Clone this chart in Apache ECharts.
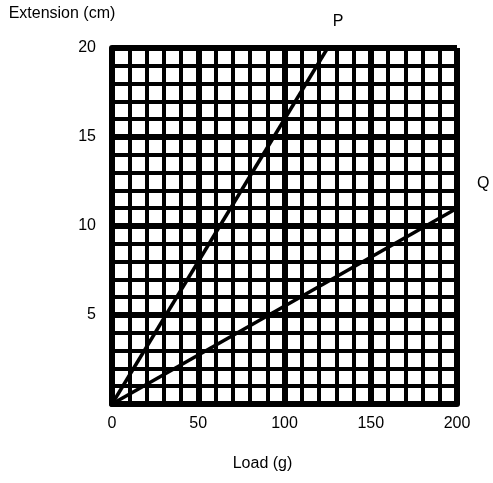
<!DOCTYPE html>
<html>
<head>
<meta charset="utf-8">
<script src="https://cdn.jsdelivr.net/npm/echarts@6/dist/echarts.min.js"></script>
<style>
html,body{margin:0;padding:0;background:#fff;}
#c{width:493px;height:483px;}
</style>
</head>
<body>
<div id="c"></div>
<script>
const xTicks = [0, 50, 100, 150, 200];
const yTicks = [5, 10, 15, 20];
const seriesNames = ['P', 'Q'];
const pData = [[0, 0], [125, 20]];
const qData = [[0, 0], [200, 11]];
const xTitle = 'Load (g)';
const yTitle = 'Extension (cm)';

const font = 'Liberation Sans, Arial, sans-serif';
const chart = echarts.init(document.getElementById('c'), null, {renderer: 'canvas'});

function mkSeries(name, data, labelOffset) {
  return {
    name: name,
    type: 'line',
    data: data,
    symbol: 'none',
    lineStyle: {color: '#000', width: 3.5},
    itemStyle: {color: '#000'},
    endLabel: {show: true, formatter: name, offset: labelOffset, distance: 5,
      color: '#000', fontSize: 16, fontFamily: font},
    clip: false,
    silent: true,
    animation: false
  };
}

chart.setOption({
  backgroundColor: '#fff',
  animation: false,
  grid: {left: 112, right: 36, top: 48, bottom: 79, containLabel: false},
  xAxis: {
    type: 'value', min: 0, max: 200, interval: 50,
    name: xTitle, nameLocation: 'middle', nameGap: 52,
    nameTextStyle: {color: '#000', fontSize: 16, fontFamily: font, padding: [0, 44, 0, 0]},
    axisLine: {show: true, lineStyle: {color: '#000', width: 6}},
    axisTick: {show: false},
    axisLabel: {color: '#000', fontSize: 16, fontFamily: font, margin: 12,
      formatter: v => xTicks.includes(v) ? String(v) : ''},
    splitLine: {show: true, lineStyle: {color: '#000', width: 6}},
    minorTick: {show: false, splitNumber: 5},
    minorSplitLine: {show: true, lineStyle: {color: '#000', width: 4}}
  },
  yAxis: {
    type: 'value', min: 0, max: 20, interval: 5,
    name: yTitle, nameLocation: 'end', nameGap: 26,
    nameTextStyle: {color: '#000', fontSize: 16, fontFamily: font, align: 'center', padding: [0, 100, 0, 0]},
    axisLine: {show: true, lineStyle: {color: '#000', width: 6}},
    axisTick: {show: false},
    axisLabel: {color: '#000', fontSize: 16, fontFamily: font, margin: 16,
      formatter: v => yTicks.includes(v) ? String(v) : ''},
    splitLine: {show: true, lineStyle: {color: '#000', width: 6}},
    minorTick: {show: false, splitNumber: 5},
    minorSplitLine: {show: true, lineStyle: {color: '#000', width: 4}}
  },
  series: [
    mkSeries(seriesNames[0], pData, [0, -26]),
    mkSeries(seriesNames[1], qData, [15, -25])
  ]
});
</script>
</body>
</html>
